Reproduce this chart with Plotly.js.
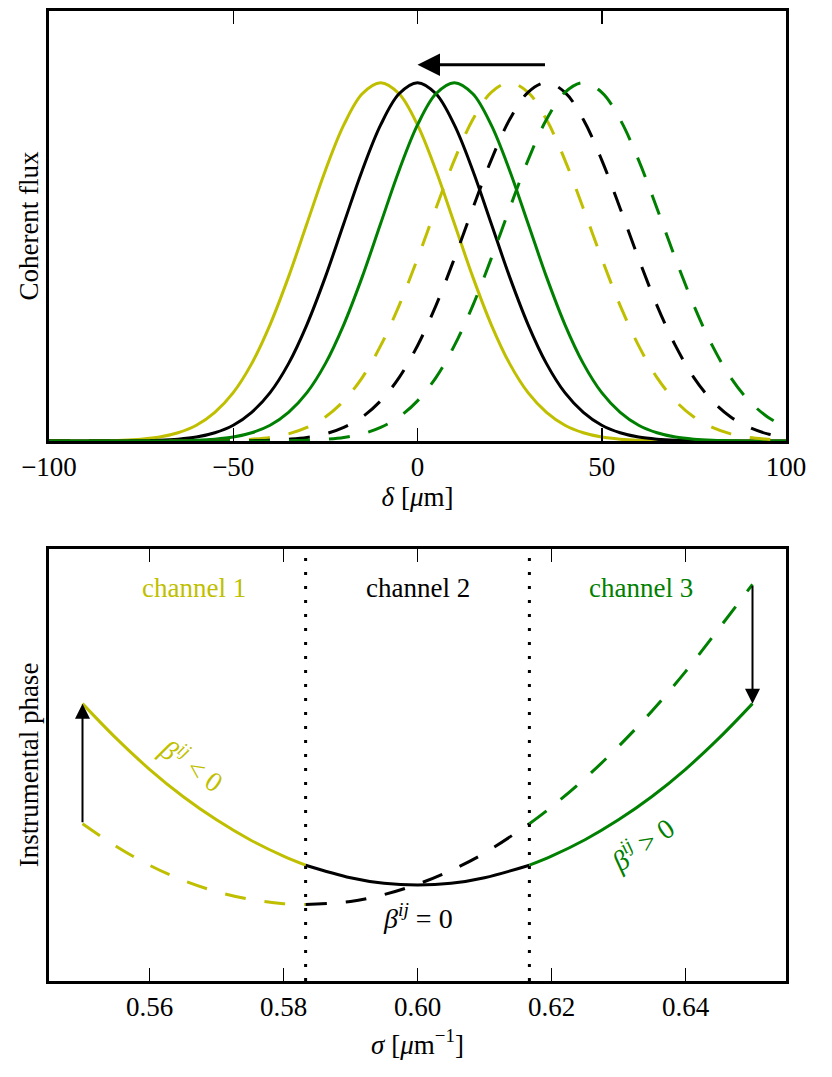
<!DOCTYPE html>
<html>
<head>
<meta charset="utf-8">
<script src="https://cdn.plot.ly/plotly-3.0.1.min.js"></script>
<style>
  body { margin: 0; background: white; }
  #chart { width: 832px; height: 1077px; }
</style>
</head>
<body>
<div id="chart"></div>
<script>
// ====== Data: top panel (coherent flux vs OPD) ======
var delta = [-100, -95, -90, -85, -80, -75, -70, -65, -60, -55, -50, -45, -40, -35, -30, -25, -20, -15, -10, -5,
             0, 5, 10, 15, 20, 25, 30, 35, 40, 45, 50, 55, 60, 65, 70, 75, 80, 85, 90, 95, 100]

var fluxCh1 = [0, 0, 0, 0.001, 0.002, 0.005, 0.011, 0.023, 0.044, 0.080, 0.135, 0.216, 0.325, 0.458, 0.607, 0.755, 0.882, 0.969, 1.000, 0.969,
               0.882, 0.755, 0.607, 0.458, 0.325, 0.216, 0.135, 0.080, 0.044, 0.023, 0.011, 0.005, 0.002, 0.001, 0, 0, 0, 0, 0, 0, 0]
var fluxCh2 = [0, 0, 0, 0, 0, 0.001, 0.002, 0.005, 0.011, 0.023, 0.044, 0.080, 0.135, 0.216, 0.325, 0.458, 0.607, 0.755, 0.882, 0.969,
               1.000, 0.969, 0.882, 0.755, 0.607, 0.458, 0.325, 0.216, 0.135, 0.080, 0.044, 0.023, 0.011, 0.005, 0.002, 0.001, 0, 0, 0, 0, 0]
var fluxCh3 = [0, 0, 0, 0, 0, 0, 0, 0.001, 0.002, 0.005, 0.011, 0.023, 0.044, 0.080, 0.135, 0.216, 0.325, 0.458, 0.607, 0.755,
               0.882, 0.969, 1.000, 0.969, 0.882, 0.755, 0.607, 0.458, 0.325, 0.216, 0.135, 0.080, 0.044, 0.023, 0.011, 0.005, 0.002, 0.001, 0, 0, 0]

var fluxCh1Shifted = [0, 0, 0, 0, 0, 0, 0, 0, 0, 0.001, 0.002, 0.005, 0.010, 0.020, 0.038, 0.067, 0.112, 0.177, 0.266, 0.378,
                      0.509, 0.649, 0.784, 0.897, 0.973, 1.000, 0.973, 0.897, 0.784, 0.649, 0.509, 0.378, 0.266, 0.177, 0.112, 0.067, 0.038, 0.020, 0.010, 0.005, 0.002]
var fluxCh2Shifted = [0, 0, 0, 0, 0, 0, 0, 0, 0, 0, 0, 0.001, 0.002, 0.005, 0.010, 0.020, 0.038, 0.067, 0.112, 0.177,
                      0.266, 0.378, 0.509, 0.649, 0.784, 0.897, 0.973, 1.000, 0.973, 0.897, 0.784, 0.649, 0.509, 0.378, 0.266, 0.177, 0.112, 0.067, 0.038, 0.020, 0.010]
var fluxCh3Shifted = [0, 0, 0, 0, 0, 0, 0, 0, 0, 0, 0, 0, 0, 0.001, 0.002, 0.005, 0.010, 0.020, 0.038, 0.067,
                      0.112, 0.177, 0.266, 0.378, 0.509, 0.649, 0.784, 0.897, 0.973, 1.000, 0.973, 0.897, 0.784, 0.649, 0.509, 0.378, 0.266, 0.177, 0.112, 0.067, 0.038]

var deltaTicks = [-100, -50, 0, 50, 100]
var shiftArrow = [35, 0]   // arrow tail -> head, in delta
var shiftArrowLevel = 1.05

// ====== Data: bottom panel (instrumental phase vs wavenumber) ======
var sigmaCh1 = [0.550, 0.555, 0.560, 0.565, 0.570, 0.575, 0.580, 0.5833]
var sigmaCh2 = [0.5833, 0.590, 0.595, 0.600, 0.605, 0.610, 0.6167]
var sigmaCh3 = [0.6167, 0.620, 0.625, 0.630, 0.635, 0.640, 0.645, 0.650]

var phaseCh1 = [0.642, 0.562, 0.490, 0.427, 0.373, 0.327, 0.289, 0.268]
var phaseCh2 = [0.268, 0.239, 0.226, 0.222, 0.226, 0.239, 0.268]
var phaseCh3 = [0.268, 0.289, 0.327, 0.373, 0.427, 0.490, 0.562, 0.642]

var phaseCh1Shifted = [0.364, 0.312, 0.268, 0.233, 0.207, 0.189, 0.179, 0.177]
var phaseCh2Shifted = [0.177, 0.184, 0.200, 0.224, 0.256, 0.296, 0.364]
var phaseCh3Shifted = [0.364, 0.403, 0.469, 0.543, 0.625, 0.716, 0.816, 0.918]

var channelBounds = [0.5833, 0.6167]
var channelNames = ["channel 1", "channel 2", "channel 3"]
var channelCenters = [0.5667, 0.600, 0.6333]
var sigmaTicks = [0.56, 0.58, 0.60, 0.62, 0.64]

var yellow = "#bfbf00"
var green = "#008000"
var colors = [yellow, "black", green]
var FONT = "Liberation Serif"
var DASH = "21px,19px"

// ====== Traces ======
function curve(x, y, color, dashed, xa, ya) {
  return {
    x: x, y: y, xaxis: xa, yaxis: ya,
    type: "scatter", mode: "lines",
    line: {color: color, width: 3, dash: dashed ? DASH : "solid", shape: "spline", smoothing: 1},
    hoverinfo: "skip", showlegend: false
  }
}

var fluxSolid = [fluxCh1, fluxCh2, fluxCh3]
var fluxDashed = [fluxCh1Shifted, fluxCh2Shifted, fluxCh3Shifted]
var sigmas = [sigmaCh1, sigmaCh2, sigmaCh3]
var phaseSolid = [phaseCh1, phaseCh2, phaseCh3]
var phaseDashed = [phaseCh1Shifted, phaseCh2Shifted, phaseCh3Shifted]

var data = []
for (var i = 0; i < 3; i++) {
  data.push(curve(delta, fluxSolid[i], colors[i], false, "x", "y"))
}
for (var i = 0; i < 3; i++) {
  data.push(curve(delta, fluxDashed[i], colors[i], true, "x", "y"))
}
for (var i = 0; i < 3; i++) {
  data.push(curve(sigmas[i], phaseDashed[i], colors[i], true, "x2", "y2"))
}
for (var i = 0; i < 3; i++) {
  data.push(curve(sigmas[i], phaseSolid[i], colors[i], false, "x2", "y2"))
}

// ====== Annotations ======
var annotations = []

// shift arrow on top panel
annotations.push({
  xref: "x", yref: "y", axref: "x", ayref: "y",
  x: shiftArrow[1], y: shiftArrowLevel, ax: shiftArrow[0], ay: shiftArrowLevel,
  text: "", showarrow: true, arrowhead: 2, arrowsize: 1.5, arrowwidth: 3, arrowcolor: "black"
})

// channel labels
for (var i = 0; i < 3; i++) {
  annotations.push({
    xref: "x2", yref: "y2", x: channelCenters[i], y: 0.91,
    text: channelNames[i], showarrow: false,
    font: {family: FONT, size: 27, color: colors[i]}
  })
}

// phase correction arrows
annotations.push({
  xref: "x2", yref: "y2", axref: "x2", ayref: "y2",
  x: sigmaCh1[0], y: phaseCh1[0], ax: sigmaCh1[0], ay: phaseCh1Shifted[0],
  text: "", showarrow: true, arrowhead: 2, arrowsize: 1.5, arrowwidth: 2, arrowcolor: "black"
})
annotations.push({
  xref: "x2", yref: "y2", axref: "x2", ayref: "y2",
  x: sigmaCh3[sigmaCh3.length - 1], y: phaseCh3[phaseCh3.length - 1],
  ax: sigmaCh3[sigmaCh3.length - 1], ay: phaseCh3Shifted[phaseCh3Shifted.length - 1],
  text: "", showarrow: true, arrowhead: 2, arrowsize: 1.5, arrowwidth: 2, arrowcolor: "black"
})

// beta labels
annotations.push({
  xref: "x2", yref: "y2", x: 0.5664, y: 0.50, textangle: 35,
  text: "<i>β</i><sup><i>ij</i></sup> &lt; 0", showarrow: false,
  font: {family: FONT, size: 28, color: yellow}
})
annotations.push({
  xref: "x2", yref: "y2", x: 0.600, y: 0.15,
  text: "<i>β</i><sup><i>ij</i></sup> = 0", showarrow: false,
  font: {family: FONT, size: 28, color: "black"}
})
annotations.push({
  xref: "x2", yref: "y2", x: 0.6335, y: 0.318, textangle: -35,
  text: "<i>β</i><sup><i>ij</i></sup> &gt; 0", showarrow: false,
  font: {family: FONT, size: 28, color: green}
})

// channel boundaries (dotted)
var shapes = []
for (var i = 0; i < channelBounds.length; i++) {
  shapes.push({
    type: "line", xref: "x2", yref: "y2 domain",
    x0: channelBounds[i], x1: channelBounds[i], y0: 0, y1: 1,
    line: {color: "black", width: 3, dash: "3px,11px"}
  })
}

// ====== Layout ======
function frameAxis(extra) {
  var ax = {
    showline: true, linewidth: 3, linecolor: "black", mirror: "allticks",
    showgrid: false, zeroline: false,
    ticks: "inside", ticklen: 13, tickwidth: 1.5, tickcolor: "black",
    tickfont: {family: FONT, size: 27, color: "black"}
  }
  for (var k in extra) ax[k] = extra[k]
  return ax
}

var layout = {
  width: 832, height: 1077,
  margin: {l: 49, r: 46, t: 11, b: 96},
  paper_bgcolor: "white", plot_bgcolor: "white",
  font: {family: FONT, size: 27, color: "black"},
  showlegend: false,
  xaxis: frameAxis({
    domain: [0, 1], anchor: "y", range: [-100, 100], tickvals: deltaTicks,
    title: {text: "<i>δ</i> [<i>μ</i>m]", font: {family: FONT, size: 27}, standoff: 0}
  }),
  yaxis: frameAxis({
    domain: [0.5567, 1], anchor: "x", range: [0, 1.2], ticks: "", showticklabels: false, mirror: true,
    title: {text: "Coherent flux", font: {family: FONT, size: 27}, standoff: 0}
  }),
  xaxis2: frameAxis({
    domain: [0, 1], anchor: "y2", range: [0.545, 0.655], tickvals: sigmaTicks, tickformat: ".2f",
    title: {text: "<i>σ</i> [<i>μ</i>m<sup>−1</sup>]", font: {family: FONT, size: 27}, standoff: 14}
  }),
  yaxis2: frameAxis({
    domain: [0, 0.4454], anchor: "x2", range: [0, 1], ticks: "", showticklabels: false, mirror: true,
    title: {text: "Instrumental phase", font: {family: FONT, size: 27}, standoff: 0}
  }),
  annotations: annotations,
  shapes: shapes
}

Plotly.newPlot("chart", data, layout, {staticPlot: true})
</script>
</body>
</html>
